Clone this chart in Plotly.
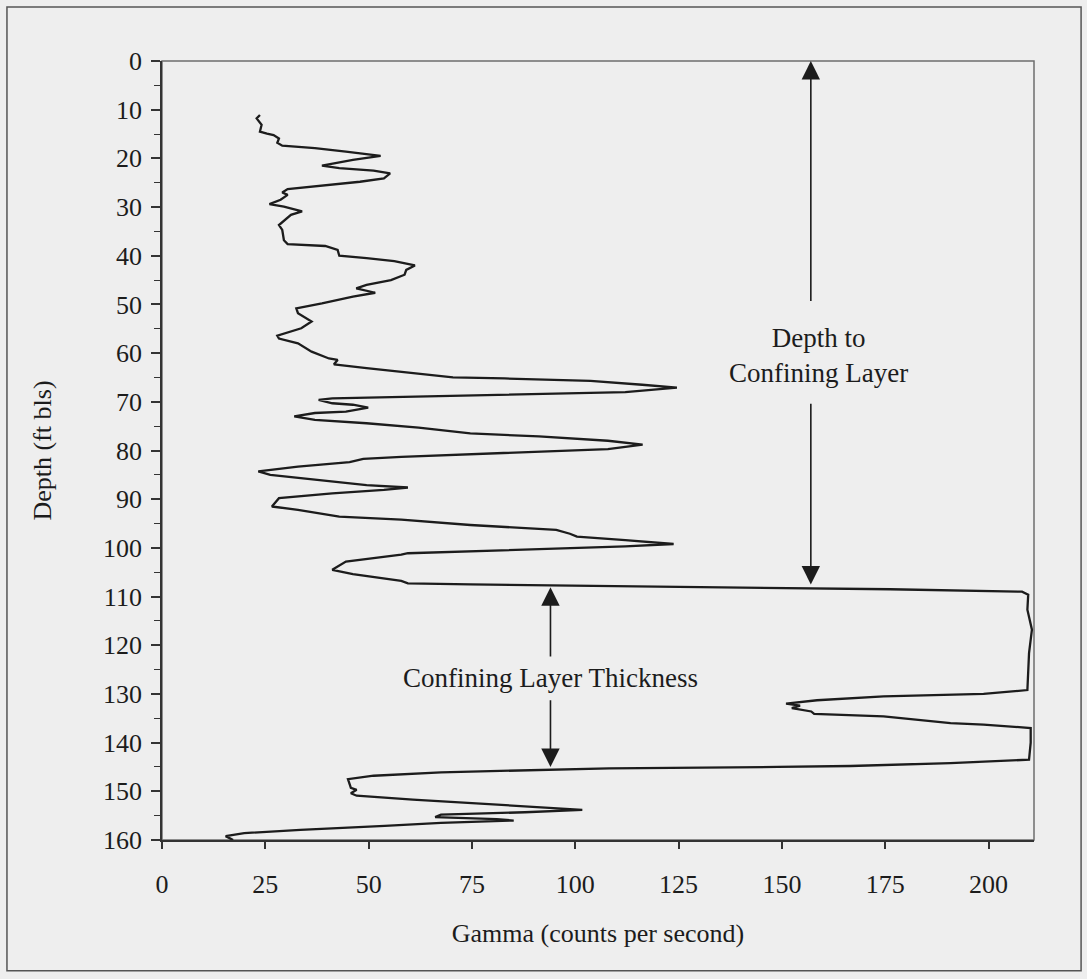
import plotly.graph_objects as go

# Gamma log: gamma (counts per second) against depth (ft below land surface)
gamma = [
    23.7, 22.9, 24.1, 23.7, 25.4, 27.0, 28.3, 27.9, 29.1, 37.0, 44.5, 49.5, 52.9,
    46.2, 38.7, 42.9, 51.2, 55.2, 53.7, 47.9, 44.5, 35.4, 30.4, 29.1, 30.4, 28.7,
    26.0, 29.5, 33.9, 31.2, 29.9, 28.3, 29.1, 29.5, 30.4, 39.5, 42.5, 42.9, 49.5,
    56.2, 61.2, 59.1, 58.7, 55.4, 49.5, 47.0, 51.6, 46.2, 38.7, 32.5, 32.9, 36.2,
    33.7, 27.9, 28.3, 32.9, 36.2, 40.4, 42.5, 41.6, 49.5, 57.9, 70.4, 82.9, 103.7,
    116.2, 124.6, 112.1, 91.2, 74.6, 57.9, 41.2, 37.9, 41.2, 46.2, 49.9, 44.5,
    37.0, 32.0, 37.0, 49.5, 62.1, 74.6, 91.2, 107.9, 116.3, 107.9, 91.2, 74.6,
    57.9, 48.7, 45.4, 32.9, 23.3, 26.2, 37.0, 49.5, 59.5, 53.7, 41.2, 28.3, 26.6,
    32.9, 42.9, 57.9, 74.6, 95.4, 98.7, 100.4, 112.1, 123.8, 112.1, 91.2, 74.6,
    59.5, 57.9, 44.5, 41.2, 46.2, 57.9, 59.5, 74.6, 99.6, 135.4, 176.2, 208.1,
    209.6, 209.4, 210.5, 209.8, 209.4, 198.8, 174.6, 169.0, 158.5, 151.0, 154.4,
    152.4, 157.1, 157.8, 166.6, 174.6, 190.8, 198.8, 210.2, 210.2, 209.8, 190.8,
    166.6, 149.0, 108.2, 67.5, 51.2, 45.0, 45.7, 47.1, 45.7, 47.1, 60.7, 81.0,
    101.7, 87.8, 67.5, 66.1, 81.0, 85.1, 67.5, 53.9, 33.5, 19.9, 15.4, 17.2,
]
depth = [
    11.1, 11.8, 13.1, 14.5, 14.9, 15.2, 15.9, 16.8, 17.4, 17.9, 18.6, 19.1, 19.5,
    20.3, 21.5, 22.0, 22.5, 23.1, 24.1, 24.8, 25.1, 25.9, 26.3, 27.0, 27.5, 28.5,
    29.4, 29.9, 30.9, 31.6, 32.6, 33.7, 34.7, 36.8, 37.6, 38.0, 38.8, 40.0, 40.5,
    41.1, 42.0, 42.9, 43.9, 45.0, 46.0, 46.7, 47.6, 48.4, 49.8, 50.8, 51.8, 53.5,
    54.9, 56.4, 57.0, 58.0, 59.7, 61.1, 61.4, 62.3, 63.1, 63.9, 65.0, 65.2, 65.7,
    66.5, 67.1, 68.0, 68.4, 68.7, 69.1, 69.3, 69.6, 70.3, 70.6, 71.2, 72.0,
    72.3, 73.0, 73.7, 74.4, 75.3, 76.5, 77.1, 78.0, 78.8, 79.7, 80.2, 80.8,
    81.3, 81.7, 82.4, 83.3, 84.3, 85.0, 86.0, 87.1, 87.6, 88.1, 88.8, 89.8, 91.5,
    92.2, 93.6, 94.2, 95.3, 96.3, 97.1, 97.7, 98.4, 99.2, 99.7, 100.2, 100.6,
    101.1, 101.4, 102.8, 104.5, 105.4, 106.8, 107.3, 107.5, 107.8, 108.1, 108.5, 109.0,
    109.6, 112.7, 116.8, 121.6, 129.2, 130.0, 130.5, 130.8, 131.3, 132.0, 132.4,
    132.9, 133.6, 134.1, 134.3, 134.6, 136.0, 136.3, 137.0, 140.0, 143.5, 144.2,
    144.8, 145.0, 145.3, 146.1, 146.8, 147.5, 149.3, 149.7, 150.4, 150.9, 151.7, 152.8,
    153.8, 154.3, 154.8, 155.3, 155.7, 156.0, 156.5, 157.1, 157.9, 158.6, 159.2, 160.0,
]

# Depth-interval markers: gamma position, arrow tips and tails, label position
interval_label_1 = "Depth to<br>Confining Layer"
interval_1 = dict(x=157.0, tip_top=0.0, tail_top=49.6, tail_bot=70.1, tip_bot=107.5,
                  label_x=158.8, label_y=60.4)
interval_label_2 = "Confining Layer Thickness"
interval_2 = dict(x=94.0, tip_top=108.1, tail_top=122.6, tail_bot=131.0, tip_bot=145.0,
                  label_x=94.0, label_y=126.7)

x_ticks = [0, 25, 50, 75, 100, 125, 150, 175, 200]
y_ticks = [0, 10, 20, 30, 40, 50, 60, 70, 80, 90, 100, 110, 120, 130, 140, 150, 160]

FONT = "Liberation Serif, Times New Roman, serif"
INK = "#1c1c1c"
BG = "#eeeeee"

fig = go.Figure()
fig.add_trace(go.Scatter(
    x=gamma, y=depth, mode="lines",
    line=dict(color=INK, width=2.3),
    hoverinfo="skip", showlegend=False,
))

annotations = []
for spec, label in ((interval_1, interval_label_1), (interval_2, interval_label_2)):
    for tip, tail in ((spec["tip_top"], spec["tail_top"]), (spec["tip_bot"], spec["tail_bot"])):
        annotations.append(dict(
            x=spec["x"], y=tip, ax=spec["x"], ay=tail,
            xref="x", yref="y", axref="x", ayref="y",
            text="", showarrow=True, arrowhead=2, arrowsize=2.3,
            arrowwidth=1.6, arrowcolor=INK, standoff=0, startstandoff=0,
        ))
    annotations.append(dict(
        x=spec["label_x"], y=spec["label_y"], xref="x", yref="y",
        text=label, showarrow=False, align="center",
        font=dict(family=FONT, size=27, color=INK),
    ))

# Thin gray frame round the plot area, and an outer border round the whole chart
shapes = [
    dict(type="rect", xref="paper", yref="paper", x0=0, y0=0, x1=1, y1=1,
         line=dict(color="#6e6e6e", width=1.5), layer="below"),
    dict(type="rect", xref="paper", yref="paper", x0=-0.1778, y0=-0.168, x1=1.054, y1=1.0693,
         line=dict(color="#555555", width=1.5), layer="below"),
]

fig.update_layout(
    width=1087, height=979,
    margin=dict(l=162, r=53, t=61, b=139),
    paper_bgcolor=BG, plot_bgcolor=BG,
    font=dict(family=FONT, size=26, color=INK),
    annotations=annotations, shapes=shapes,
    xaxis=dict(
        range=[0, 211], tickvals=x_ticks, ticktext=[str(v) for v in x_ticks],
        showgrid=False, zeroline=False, showline=True, linecolor="#333333", linewidth=1.8,
        ticks="outside", ticklen=7, tickwidth=1.5, tickcolor="#333333",
        ticklabelstandoff=13,
        title=dict(text="Gamma (counts per second)", font=dict(family=FONT, size=26, color=INK),
                   standoff=26),
    ),
    yaxis=dict(
        range=[160, 0], tickvals=y_ticks, ticktext=[str(v) for v in y_ticks],
        showgrid=False, zeroline=False, showline=True, linecolor="#333333", linewidth=1.8,
        ticks="outside", ticklen=9, tickwidth=1.5, tickcolor="#333333",
        minor=dict(dtick=5, ticks="outside", ticklen=6, tickwidth=1.2, tickcolor="#333333"),
        ticklabelstandoff=4,
        title=dict(text="Depth (ft bls)", font=dict(family=FONT, size=26, color=INK),
                   standoff=44),
    ),
)

fig.write_html("out.html")
